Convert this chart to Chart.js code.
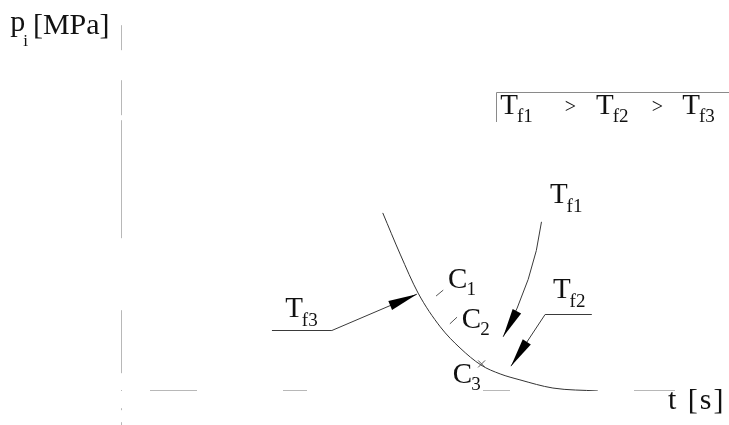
<!DOCTYPE html>
<html>
<head>
<meta charset="utf-8">
<script src="https://cdn.jsdelivr.net/npm/chart.js@4/dist/chart.umd.min.js"></script>
<style>
  html, body { margin: 0; padding: 0; background: #ffffff; }
  canvas { display: block; }
</style>
</head>
<body>
<canvas id="chart" width="729" height="425"></canvas>
<script>
// Cooling curve: pressure p_i against time t (arbitrary units of the sketch)
const tSeconds = [43.7, 46.6, 49.6, 53.3, 56.6, 60.1, 63.3, 66.6, 72.1, 79.6];
const pressure = [48.0, 36.9, 26.4, 17.3, 11.6, 7.0, 4.6, 3.0, 0.8, 0.0];

// Text content
const yTitle = { main: 'p', sub: 'i', unit: '[MPa]' };
const xTitle = 't [s]';
const temperatureNames = [['T', 'f1'], ['T', 'f2'], ['T', 'f3']];
const orderSign = '>';
const stageNames = [['C', '1'], ['C', '2'], ['C', '3']];

const SERIF = '"Liberation Serif", "Times New Roman", serif';

// Annotation layout, given in data units (t, p) and mapped through the scales
const layout = {
  yAxis: { t: 0, from: 98.6, to: -9.2 },
  xAxis: { p: 0, from: 0, to: 92.5 },
  yTitle: { t: -18.5, p: 96.2, unitT: -14.7 },
  xTitle: { t: 91.3, p: -4.85 },
  legend: { corner: [62.6, 80.5], bottom: 72.5, right: 101.5, baseline: 74.7,
            names: [63.3, 79.3, 93.7], signs: [74.1, 88.6] },
  leaders: [
    // T_f1: curved leader from the label down to the curve
    { name: 0, text: [71.6, 50.7], start: [70.2, 45.6], ctrl: [68.96, 30.1], tip: [63.8, 14.6] },
    // T_f2: shelf then straight leader
    { name: 1, text: [72.1, 25.1], shelf: [[78.6, 20.8], [70.8, 20.8]], tip: [65.1, 6.7] },
    // T_f3: shelf then straight leader
    { name: 2, text: [27.4, 19.9], shelf: [[25.2, 16.4], [35.2, 16.4]], tip: [49.4, 26.1] }
  ],
  stages: [
    { text: [54.6, 27.8], tick: [[52.6, 25.6], [53.8, 27.2]] },
    { text: [56.9, 17.0], tick: [[54.9, 18.1], [56.1, 19.9]] },
    { text: [55.4, 2.2], cross: [60.2, 7.3] }
  ]
};

function toPx(chart, t, p) {
  return [chart.scales.x.getPixelForValue(t), chart.scales.y.getPixelForValue(p)];
}

function arrowHead(ctx, from, tip, len, half) {
  const dx = tip[0] - from[0], dy = tip[1] - from[1];
  const d = Math.hypot(dx, dy) || 1;
  const ux = dx / d, uy = dy / d;
  const bx = tip[0] - ux * len, by = tip[1] - uy * len;
  ctx.beginPath();
  ctx.moveTo(tip[0], tip[1]);
  ctx.lineTo(bx - uy * half, by + ux * half);
  ctx.lineTo(bx + uy * half, by - ux * half);
  ctx.closePath();
  ctx.fill();
}

function subText(ctx, x, y, main, sub, size, subSize, drop) {
  ctx.font = size + 'px ' + SERIF;
  ctx.fillText(main, x, y);
  const w = ctx.measureText(main).width;
  ctx.font = subSize + 'px ' + SERIF;
  ctx.fillText(sub, x + w - 1, y + drop);
}

// Faint, broken axis lines drawn beneath the curve
const axesPlugin = {
  id: 'sketchAxes',
  beforeDatasetsDraw(chart) {
    const ctx = chart.ctx;
    ctx.save();
    ctx.strokeStyle = '#b8b8b8';
    ctx.lineWidth = 1;
    const ya = layout.yAxis;
    const [yx, yTop] = toPx(chart, ya.t, ya.from);
    const [, yBot] = toPx(chart, ya.t, ya.to);
    ctx.setLineDash([25, 30, 35, 5, 118, 72, 63, 35, 2, 12, 20, 40]);
    ctx.beginPath();
    ctx.moveTo(Math.round(yx) + 0.5, yTop);
    ctx.lineTo(Math.round(yx) + 0.5, yBot);
    ctx.stroke();

    const xa = layout.xAxis;
    const [xL, xy] = toPx(chart, xa.from, xa.p);
    const [xR] = toPx(chart, xa.to, xa.p);
    ctx.setLineDash([1, 28, 47, 86, 24, 176, 27, 124, 41, 100]);
    ctx.beginPath();
    ctx.moveTo(xL, Math.round(xy) - 0.5);
    ctx.lineTo(xR, Math.round(xy) - 0.5);
    ctx.stroke();
    ctx.restore();
  }
};

// Titles, legend box, leaders with arrowheads and stage marks
const notesPlugin = {
  id: 'sketchNotes',
  afterDatasetsDraw(chart) {
    const ctx = chart.ctx;
    ctx.save();
    ctx.fillStyle = '#111';
    ctx.textBaseline = 'alphabetic';
    ctx.textAlign = 'left';

    // axis titles
    const yt = layout.yTitle;
    const [pX, pY] = toPx(chart, yt.t, yt.p);
    ctx.font = '30px ' + SERIF;
    ctx.fillText(yTitle.main, pX, pY - 3);
    ctx.font = '17px ' + SERIF;
    ctx.fillText(yTitle.sub, pX + 13, pY + 12);
    const [uX] = toPx(chart, yt.unitT, yt.p);
    ctx.font = '30px ' + SERIF;
    ctx.fillText(yTitle.unit, uX, pY);

    const [tX, tY] = toPx(chart, layout.xTitle.t, layout.xTitle.p);
    ctx.letterSpacing = '2px';
    ctx.fillText(xTitle, tX, tY);
    ctx.letterSpacing = '0px';

    // legend box
    const lg = layout.legend;
    const [cX, cY] = toPx(chart, lg.corner[0], lg.corner[1]);
    const [, bY] = toPx(chart, lg.corner[0], lg.bottom);
    const [rX] = toPx(chart, lg.right, lg.corner[1]);
    ctx.strokeStyle = '#8a8a8a';
    ctx.lineWidth = 1;
    ctx.beginPath();
    ctx.moveTo(Math.round(cX) + 0.5, bY);
    ctx.lineTo(Math.round(cX) + 0.5, Math.round(cY) + 0.5);
    ctx.lineTo(rX, Math.round(cY) + 0.5);
    ctx.stroke();
    const [, lgBase] = toPx(chart, 0, lg.baseline);
    lg.names.forEach((t, i) => {
      const [x] = toPx(chart, t, 0);
      subText(ctx, x, lgBase, temperatureNames[i][0], temperatureNames[i][1], 29, 19, 8);
    });
    ctx.font = '20px ' + SERIF;
    lg.signs.forEach(t => {
      const [x] = toPx(chart, t, 0);
      ctx.fillText(orderSign, x, lgBase - 1);
    });

    // leaders
    ctx.strokeStyle = '#3a3a3a';
    ctx.lineWidth = 1;
    layout.leaders.forEach(ld => {
      const tip = toPx(chart, ld.tip[0], ld.tip[1]);
      let from;
      ctx.beginPath();
      if (ld.ctrl) {
        const s = toPx(chart, ld.start[0], ld.start[1]);
        const c = toPx(chart, ld.ctrl[0], ld.ctrl[1]);
        ctx.moveTo(s[0], s[1]);
        ctx.quadraticCurveTo(c[0], c[1], tip[0], tip[1]);
        from = c;
      } else {
        const a = toPx(chart, ld.shelf[0][0], ld.shelf[0][1]);
        const b = toPx(chart, ld.shelf[1][0], ld.shelf[1][1]);
        ctx.moveTo(a[0], Math.round(a[1]) + 0.5);
        ctx.lineTo(b[0], Math.round(b[1]) + 0.5);
        ctx.lineTo(tip[0], tip[1]);
        from = b;
      }
      ctx.stroke();
      ctx.fillStyle = '#000';
      arrowHead(ctx, from, tip, 29, 4.8);
      const [lx, ly] = toPx(chart, ld.text[0], ld.text[1]);
      ctx.fillStyle = '#111';
      subText(ctx, lx, ly, temperatureNames[ld.name][0], temperatureNames[ld.name][1], 29, 19, 9);
    });

    // stage marks on the curve
    ctx.strokeStyle = '#555';
    layout.stages.forEach((st, i) => {
      if (st.tick) {
        const a = toPx(chart, st.tick[0][0], st.tick[0][1]);
        const b = toPx(chart, st.tick[1][0], st.tick[1][1]);
        ctx.beginPath();
        ctx.moveTo(a[0], a[1]);
        ctx.lineTo(b[0], b[1]);
        ctx.stroke();
      } else if (st.cross) {
        const [x, y] = toPx(chart, st.cross[0], st.cross[1]);
        ctx.beginPath();
        ctx.moveTo(x - 3.5, y - 3.5); ctx.lineTo(x + 3.5, y + 3.5);
        ctx.moveTo(x - 3.5, y + 3.5); ctx.lineTo(x + 3.5, y - 3.5);
        ctx.stroke();
      }
      const [sx, sy] = toPx(chart, st.text[0], st.text[1]);
      subText(ctx, sx, sy, stageNames[i][0], stageNames[i][1], 29, 19, 7);
    });
    ctx.restore();
  }
};

new Chart(document.getElementById('chart'), {
  type: 'scatter',
  data: {
    datasets: [{
      data: tSeconds.map((t, i) => ({ x: t, y: pressure[i] })),
      showLine: true,
      borderColor: '#333333',
      borderWidth: 1,
      pointRadius: 0,
      cubicInterpolationMode: 'monotone',
      fill: false
    }]
  },
  options: {
    responsive: false,
    animation: false,
    layout: { padding: { left: 121, right: 9, top: 20, bottom: 34 } },
    plugins: { legend: { display: false }, tooltip: { enabled: false } },
    scales: {
      x: { type: 'linear', display: false, min: 0, max: 100 },
      y: { type: 'linear', display: false, min: 0, max: 100 }
    }
  },
  plugins: [axesPlugin, notesPlugin]
});
</script>
</body>
</html>
